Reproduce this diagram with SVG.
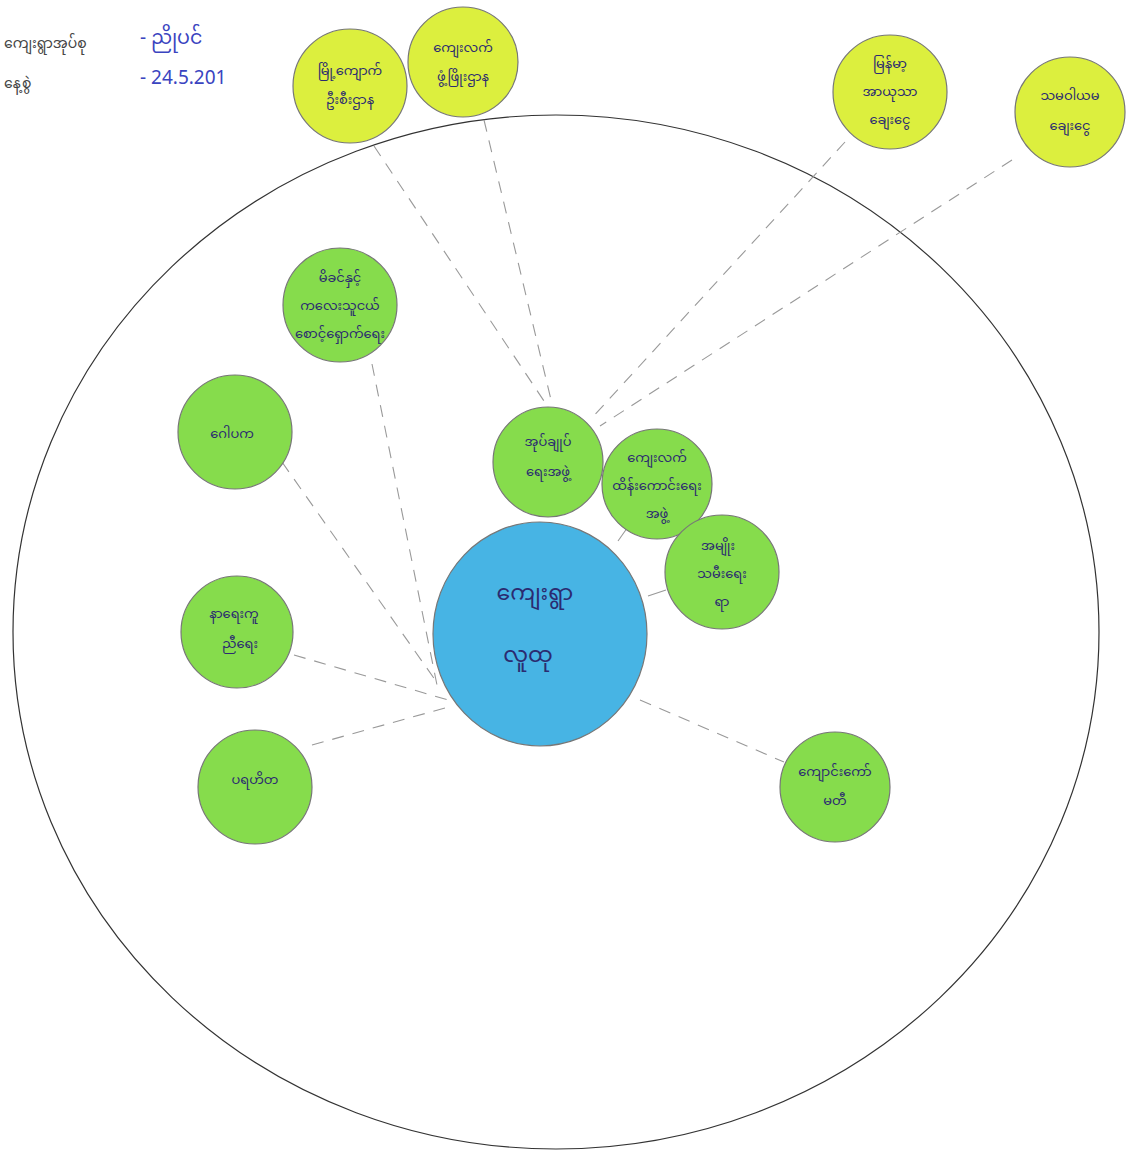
<svg xmlns="http://www.w3.org/2000/svg" width="1132" height="1151" viewBox="0 0 1132 1151">
<style>
.bg{fill:#ffffff}
.outer{fill:none;stroke:#333;stroke-width:1.2}
.green{fill:#86dc4c;stroke:#777;stroke-width:1.2}
.yellow{fill:#dcef3e;stroke:#777;stroke-width:1.2}
.blue{fill:#47b4e4;stroke:#777;stroke-width:1.2}
.dash{fill:none;stroke:#999;stroke-width:1.1;stroke-dasharray:12 9}
.solid{fill:none;stroke:#999;stroke-width:1.1}
text{font-family:"Noto Sans Myanmar","Padauk","Myanmar Text","Noto Sans",sans-serif;fill:#2b2b70;text-anchor:middle}
.t{font-size:13px}
.tc{font-size:22px}
.hdr{font-size:14px;fill:#444;text-anchor:start}
.val{font-size:19px;fill:#3a44c0;text-anchor:start}
</style>
<rect class="bg" x="0" y="0" width="1132" height="1151"/>
<ellipse class="outer" cx="556" cy="632" rx="543" ry="517"/>
<g id="connectors">
<path class="dash" d="M374,146 L546,404"/>
<path class="dash" d="M484,120 L552,404"/>
<path class="dash" d="M845,142 L590,420"/>
<path class="dash" d="M1012,160 L600,426"/>
<path class="dash" d="M372,364 L438,690"/>
<path class="dash" d="M282,462 L438,684"/>
<path class="dash" d="M294,655 L455,702"/>
<path class="dash" d="M312,745 L452,706"/>
<path class="dash" d="M640,700 L784,762"/>
<path class="solid" d="M618,541 L630,524"/>
<path class="solid" d="M648,596 L666,590"/>
</g>
<g id="header">
<text class="hdr" x="4" y="48">ကျေးရွာအုပ်စု</text>
<text class="val" x="140" y="44">- ညိုပင်</text>
<text class="hdr" x="4" y="88">နေ့စွဲ</text>
<text class="val" x="140" y="84">- 24.5.201</text>
</g>
<g id="y1"><circle class="yellow" cx="350" cy="86" r="57"/><text class="t" x="350" y="75">မြို့ကျောက်</text><text class="t" x="350" y="104">ဦးစီးဌာန</text></g>
<g id="y2"><circle class="yellow" cx="463" cy="62" r="55"/><text class="t" x="463" y="52">ကျေးလက်</text><text class="t" x="463" y="81">ဖွံ့ဖြိုးဌာန</text></g>
<g id="y3"><circle class="yellow" cx="890" cy="92" r="57"/><text class="t" x="890" y="68">မြန်မာ့</text><text class="t" x="890" y="96">အာယုသာ</text><text class="t" x="890" y="124">ချေးငွေ</text></g>
<g id="y4"><circle class="yellow" cx="1070" cy="112" r="55"/><text class="t" x="1070" y="100">သမဝါယမ</text><text class="t" x="1070" y="130">ချေးငွေ</text></g>
<g id="g1"><circle class="green" cx="340" cy="305" r="57"/><text class="t" x="340" y="282">မိခင်နှင့်</text><text class="t" x="340" y="310">ကလေးသူငယ်</text><text class="t" x="340" y="338">စောင့်ရှောက်ရေး</text></g>
<g id="g2"><circle class="green" cx="235" cy="432" r="57"/><text class="t" x="232" y="438">ဂေါပက</text></g>
<g id="g3"><circle class="green" cx="237" cy="632" r="56"/><text class="t" x="234" y="618">နာရေးကူ</text><text class="t" x="240" y="648">ညီရေး</text></g>
<g id="g4"><circle class="green" cx="255" cy="787" r="57"/><text class="t" x="255" y="784">ပရဟိတ</text></g>
<g id="g5"><circle class="green" cx="548" cy="462" r="55"/><text class="t" x="548" y="446">အုပ်ချုပ်</text><text class="t" x="548" y="476">ရေးအဖွဲ့</text></g>
<g id="g6"><circle class="green" cx="657" cy="484" r="55"/><text class="t" x="657" y="462">ကျေးလက်</text><text class="t" x="657" y="490">ထိန်းကောင်းရေး</text><text class="t" x="657" y="518">အဖွဲ့</text></g>
<g id="g7"><circle class="green" cx="722" cy="572" r="57"/><text class="t" x="718" y="550">အမျိုး</text><text class="t" x="722" y="578">သမီးရေး</text><text class="t" x="722" y="606">ရာ</text></g>
<g id="g8"><circle class="green" cx="835" cy="787" r="55"/><text class="t" x="835" y="776">ကျောင်းကော်</text><text class="t" x="835" y="805">မတီ</text></g>
<g id="center"><ellipse class="blue" cx="540" cy="634" rx="107" ry="112"/><text class="tc" x="535" y="600">ကျေးရွာ</text><text class="tc" x="528" y="662">လူထု</text></g>
</svg>
